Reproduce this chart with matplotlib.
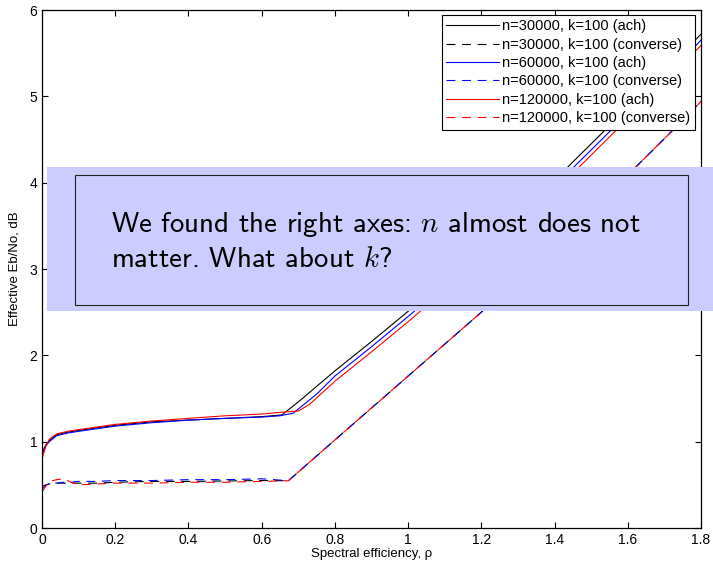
import matplotlib
matplotlib.use("Agg")
import matplotlib.pyplot as plt
from matplotlib.patches import Rectangle

plt.rcParams.update({
    "font.family": ["Liberation Sans", "DejaVu Sans"],
    "mathtext.fontset": "cm",
})

# achievability curves (one x grid per n, kink differs slightly)
x_ach_30k = [0.0, 0.01, 0.02, 0.04, 0.07, 0.1, 0.15, 0.2, 0.3, 0.4, 0.5, 0.6, 0.655,
             0.7, 0.8, 0.9, 1.0, 1.1, 1.2, 1.3, 1.4, 1.5, 1.6, 1.7, 1.8]
y_ach_30k = [0.87, 0.96, 1.01, 1.08, 1.11, 1.13, 1.16, 1.19, 1.23, 1.25, 1.27, 1.29, 1.31,
             1.46, 1.82, 2.16, 2.51, 2.87, 3.24, 3.62, 4.03, 4.45, 4.87, 5.29, 5.72]

x_ach_60k = [0.0, 0.01, 0.02, 0.04, 0.07, 0.1, 0.15, 0.2, 0.3, 0.4, 0.5, 0.6, 0.65, 0.686,
             0.75, 0.8, 0.9, 1.0, 1.1, 1.2, 1.3, 1.4, 1.5, 1.6, 1.7, 1.8]
y_ach_60k = [0.85, 0.95, 1.0, 1.07, 1.1, 1.12, 1.15, 1.18, 1.22, 1.25, 1.27, 1.285, 1.30, 1.33,
             1.55, 1.76, 2.10, 2.45, 2.81, 3.18, 3.56, 3.96, 4.38, 4.80, 5.22, 5.65]

x_ach_120k = [0.0, 0.01, 0.02, 0.04, 0.07, 0.1, 0.15, 0.2, 0.3, 0.4, 0.5, 0.6, 0.65, 0.70,
              0.73, 0.8, 0.9, 1.0, 1.1, 1.2, 1.3, 1.4, 1.5, 1.6, 1.7, 1.8]
y_ach_120k = [0.80, 0.94, 1.03, 1.09, 1.12, 1.14, 1.17, 1.20, 1.24, 1.27, 1.30, 1.32, 1.34, 1.355,
              1.43, 1.70, 2.04, 2.39, 2.75, 3.12, 3.50, 3.90, 4.32, 4.74, 5.16, 5.59]

# converse bounds: shared x grid
x_conv = [0.0, 0.01, 0.02, 0.04, 0.06, 0.08, 0.1, 0.15, 0.2, 0.3, 0.4, 0.5, 0.6, 0.673,
          0.8, 0.9, 1.0, 1.1, 1.2, 1.3, 1.4, 1.5, 1.6, 1.7, 1.8]
y_conv_30k = [0.48, 0.50, 0.51, 0.52, 0.52, 0.52, 0.52, 0.52, 0.53, 0.54, 0.54, 0.545, 0.55, 0.548,
              1.02, 1.39, 1.76, 2.13, 2.50, 2.88, 3.28, 3.68, 4.09, 4.51, 4.94]
y_conv_60k = [0.45, 0.49, 0.52, 0.52, 0.53, 0.53, 0.54, 0.54, 0.55, 0.55, 0.56, 0.56, 0.57, 0.548,
              1.02, 1.39, 1.76, 2.13, 2.50, 2.88, 3.28, 3.68, 4.09, 4.51, 4.94]
y_conv_120k = [0.42, 0.48, 0.54, 0.56, 0.57, 0.53, 0.50, 0.51, 0.52, 0.52, 0.53, 0.53, 0.54, 0.548,
               1.02, 1.39, 1.76, 2.13, 2.50, 2.88, 3.28, 3.68, 4.09, 4.51, 4.94]

labels = ["n=30000, k=100 (ach)", "n=30000, k=100 (converse)",
          "n=60000, k=100 (ach)", "n=60000, k=100 (converse)",
          "n=120000, k=100 (ach)", "n=120000, k=100 (converse)"]

note_lines = ["We found the right axes: $n$ almost does not",
              "matter. What about $k$?"]

fig = plt.figure(figsize=(7.13, 5.66), dpi=100)
ax = fig.add_axes([0.0589, 0.0671, 0.9243, 0.9152])

lw = 0.8
dash = (8, 6)
ax.plot(x_ach_30k, y_ach_30k, color="black", lw=lw, label=labels[0])
ax.plot(x_conv, y_conv_30k, color="black", lw=lw, dashes=dash, label=labels[1])
ax.plot(x_ach_60k, y_ach_60k, color="blue", lw=lw, label=labels[2])
ax.plot(x_conv, y_conv_60k, color="blue", lw=lw, dashes=dash, label=labels[3])
ax.plot(x_ach_120k, y_ach_120k, color="red", lw=lw, label=labels[4])
ax.plot(x_conv, y_conv_120k, color="red", lw=lw, dashes=dash, label=labels[5])

ax.set_xlim(0, 1.8)
ax.set_ylim(0, 6)
ax.set_xticks([0, 0.2, 0.4, 0.6, 0.8, 1, 1.2, 1.4, 1.6, 1.8])
ax.set_xticklabels(["0", "0.2", "0.4", "0.6", "0.8", "1", "1.2", "1.4", "1.6", "1.8"])
ax.set_yticks(range(7))
ax.tick_params(direction="in", top=True, right=True, length=4, width=0.8, labelsize=10)
for s in ax.spines.values():
    s.set_linewidth(0.9)
ax.set_xlabel("Spectral efficiency, ρ", fontsize=9.5, labelpad=1)
ax.set_ylabel("Effective Eb/No, dB", fontsize=9.5, labelpad=6)

leg = ax.legend(loc="upper right", bbox_to_anchor=(695 / 713, 1 - 15 / 566),
                bbox_transform=fig.transFigure, borderaxespad=0, fancybox=False,
                edgecolor="black", framealpha=1, fontsize=10.5, handlelength=3.6,
                handletextpad=0.25, labelspacing=0.3, borderpad=0.3)
leg.get_frame().set_linewidth(0.8)

# overlay note
fig.add_artist(Rectangle((47 / 713, 1 - 311 / 566), 666 / 713, 144 / 566,
                         transform=fig.transFigure, facecolor="#ccccff",
                         edgecolor="none", zorder=10))
fig.add_artist(Rectangle((75 / 713, 1 - 305 / 566), 613 / 713, 130 / 566,
                         transform=fig.transFigure, facecolor="#ccccff",
                         edgecolor="#222222", lw=0.8, zorder=11))
for line, base in zip(note_lines, [232, 267]):
    fig.text(111 / 713, 1 - base / 566, line, family="cmss10", fontsize=20.8,
             va="baseline", ha="left", zorder=12)

fig.savefig("out.png", dpi=100)
